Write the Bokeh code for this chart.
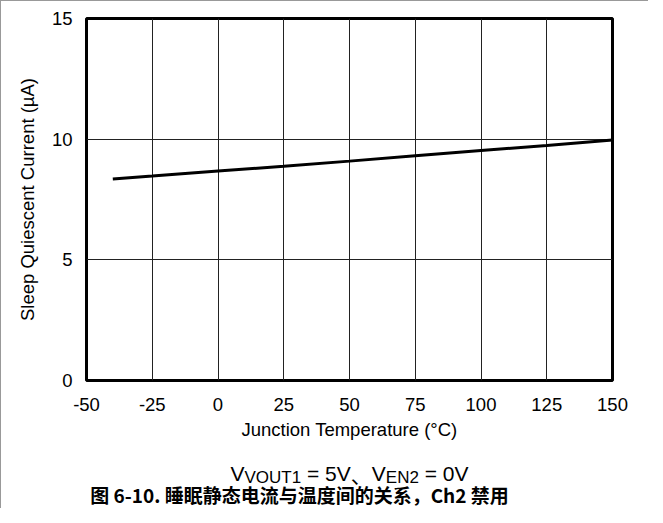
from bokeh.plotting import figure
from bokeh.models import FixedTicker, Range1d
from bokeh.layouts import column
from bokeh.core.properties import value
from bokeh.embed import file_html
from bokeh.resources import INLINE

# data
temps = [-40, -25, 0, 25, 50, 75, 100, 125, 150]
current = [8.35, 8.47, 8.68, 8.88, 9.09, 9.31, 9.53, 9.74, 9.97]
x_ticks = [-50, -25, 0, 25, 50, 75, 100, 125, 150]
y_ticks = [0, 5, 10, 15]
x_title = "Junction Temperature (°C)"
y_title = "Sleep Quiescent Current (µA)"
caption = "图 6-10. 睡眠静态电流与温度间的关系，Ch2 禁用"

FONT = "Liberation Sans"
FS = "18.5px"
W_TOTAL = 647
MAIN_H = 445
TEXT_H = 62
FL, FR = 85, 611   # frame left/right in figure pixels

p = figure(width=W_TOTAL, height=MAIN_H, x_range=(-50, 150), y_range=(0, 15),
           output_backend="svg", toolbar_location=None,
           min_border_left=FL, min_border_right=W_TOTAL - FR, min_border_top=17,
           min_border_bottom=MAIN_H - 17 - 362)
p.outline_line_color = "black"
p.outline_line_width = 3
p.background_fill_color = "white"
p.border_fill_color = "white"

for ax in (p.xaxis[0], p.yaxis[0]):
    ax.axis_line_color = None
    ax.major_tick_line_color = None
    ax.minor_tick_line_color = None
    ax.major_label_text_font = FONT
    ax.major_label_text_font_size = FS
    ax.major_label_text_color = "black"
    ax.axis_label_text_font = FONT
    ax.axis_label_text_font_size = FS
    ax.axis_label_text_font_style = "normal"
    ax.axis_label_text_color = "black"

p.xaxis.ticker = FixedTicker(ticks=x_ticks)
p.yaxis.ticker = FixedTicker(ticks=y_ticks)
p.xaxis.major_label_overrides = {t: str(t) for t in x_ticks}
p.yaxis.major_label_overrides = {t: str(t) for t in y_ticks}
p.xaxis.axis_label = x_title
p.yaxis.axis_label = y_title
p.xaxis.major_label_standoff = 11
p.xaxis.axis_label_standoff = 5
p.yaxis.major_label_standoff = 8
p.yaxis.axis_label_standoff = 11

p.xgrid.ticker = FixedTicker(ticks=x_ticks)
p.ygrid.ticker = FixedTicker(ticks=y_ticks)
for g in (p.xgrid[0], p.ygrid[0]):
    g.grid_line_color = "#222222"
    g.grid_line_width = 1

p.line(temps, current, line_color="black", line_width=3)

# text panel below (its frame is aligned to the main frame; x in figure pixels)
t = figure(width=W_TOTAL, height=TEXT_H, x_range=Range1d(FL, FR), y_range=Range1d(TEXT_H, 0),
           output_backend="svg", toolbar_location=None, x_axis_type=None, y_axis_type=None,
           min_border_left=FL, min_border_right=W_TOTAL - FR, min_border_top=0, min_border_bottom=0)
t.outline_line_color = None
t.grid.visible = False
t.background_fill_color = "white"
t.border_fill_color = "white"

W = {"V": 667, "O": 778, "U": 722, "T": 611, "1": 556, " ": 278, "=": 584,
     "5": 556, "0": 556, "E": 667, "N": 722, "2": 556, "、": 1000}
main_fs, sub_fs = 21, 17
SP = " "
parts = [("V", main_fs, 0, FONT), ("VOUT1", sub_fs, 4, FONT), (SP, main_fs, 0, None),
         ("=", main_fs, 0, FONT), (SP, main_fs, 0, None), ("5V", main_fs, 0, FONT),
         ("、", main_fs, 0, "Noto Sans CJK SC"), ("V", main_fs, 0, FONT), ("EN2", sub_fs, 4, FONT),
         (SP, main_fs, 0, None), ("=", main_fs, 0, FONT), (SP, main_fs, 0, None),
         ("0V", main_fs, 0, FONT)]
widths = [sum(W[c] for c in s) * fs / 1000 for s, fs, _, _ in parts]
cx = 348
xpos = cx - sum(widths) / 2
base = 27
for (s, fs, dy, fnt), w in zip(parts, widths):
    if fnt is not None:
        t.text(x=[xpos], y=[base + dy], text=[s], text_font=value(fnt),
               text_font_size=value(f"{fs}px"), text_color="black",
               text_align="left", text_baseline="alphabetic")
    xpos += w

t.text(x=[298], y=[TEXT_H - 1], text=[caption], text_font=value("Noto Sans CJK SC"),
       text_font_size=value("19px"), text_font_style="bold", text_color="black",
       text_align="center", text_baseline="bottom")

layout = column(p, t, spacing=0)
layout.styles = {"border-top": "1px solid #999", "border-left": "1px solid #999"}

open("out.html", "w").write(file_html(layout, INLINE))
